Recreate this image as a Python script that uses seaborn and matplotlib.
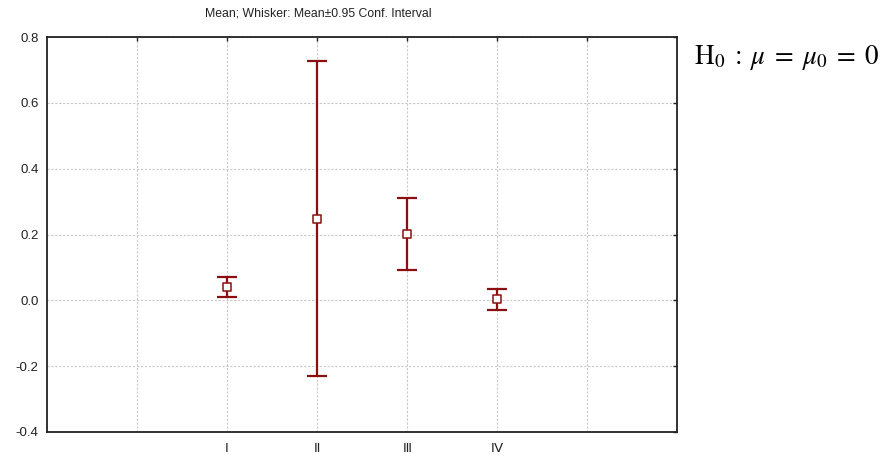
import matplotlib
matplotlib.use("Agg")
import matplotlib.pyplot as plt
import seaborn as sns
import pandas as pd
import numpy as np

# Group labels and their means with 0.95 confidence limits
groups = ["Ⅰ", "Ⅱ", "Ⅲ", "Ⅳ"]
means = [0.042, 0.248, 0.202, 0.004]
ci_low = [0.010, -0.230, 0.092, -0.028]
ci_high = [0.071, 0.726, 0.311, 0.035]

positions = [2, 3, 4, 5]

sns.set_style("white")
plt.rcParams["font.family"] = ["Liberation Sans", "DejaVu Sans"]
plt.rcParams["mathtext.fontset"] = "stix"

df = pd.DataFrame({"pos": positions, "group": groups, "mean": means,
                   "lo": ci_low, "hi": ci_high})

fig = plt.figure(figsize=(8.91, 4.57), dpi=100)
ax = fig.add_axes([47 / 891, 1 - 432 / 457, 630 / 891, 395 / 457])

color = "#8b0f0f"
yerr = np.vstack([df["mean"] - df["lo"], df["hi"] - df["mean"]])
ax.errorbar(df["pos"], df["mean"], yerr=yerr, fmt="none", ecolor=color,
            elinewidth=1.6, capsize=7, capthick=1.6, zorder=3)
sns.scatterplot(data=df, x="pos", y="mean", marker="s", s=32,
                facecolor="white", edgecolor=color, linewidth=1.1,
                ax=ax, zorder=4, legend=False)

ax.set_xlim(0, 7)
ax.set_ylim(-0.4, 0.8)
ax.set_xticks(range(1, 7))
ax.set_xticklabels([""] + groups + [""])
ax.set_yticks(np.arange(-0.4, 0.81, 0.2))
ax.set_yticklabels([f"{v:.1f}" for v in np.arange(-0.4, 0.81, 0.2)])
ax.set_xlabel("")
ax.set_ylabel("")

ax.grid(True, color="#c8c8c8", linestyle=(0, (2, 1.5)), linewidth=0.8)
ax.set_axisbelow(True)
for s in ax.spines.values():
    s.set_visible(True)
    s.set_color("#222222")
    s.set_linewidth(1.3)

ax.tick_params(axis="both", which="both", direction="in", length=3,
               width=1.0, color="#222222", top=True, right=True,
               labelsize=9.5, labelcolor="#222222", pad=6)
ax.tick_params(axis="x", labelsize=9.5, pad=8)

fig.text(318 / 891, 1 - 14 / 457, "Mean; Whisker: Mean±0.95 Conf. Interval",
         ha="center", va="center", fontsize=8.8, color="#222222")

fig.text(694 / 891, 1 - 57 / 457, r"$\mathrm{H}_0\;:\;\mu\;=\;\mu_0\;=\;0$",
         ha="left", va="center", fontsize=19.5, color="black")

fig.savefig("out.png", dpi=100, facecolor="white")
